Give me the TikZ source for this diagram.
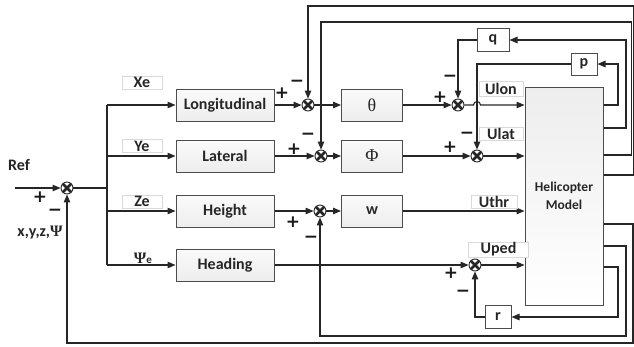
\documentclass[tikz,border=0pt]{standalone}
\usepackage{fontspec}
\setmainfont{Carlito}
\newfontfamily\serifgr{Liberation Serif}
\newfontfamily\signfont{DejaVu Sans Bold}
\usetikzlibrary{arrows.meta,calc}

\begin{document}
\begin{tikzpicture}[x=1pt,y=-1pt,
  wire/.style={draw=black!85, line width=1.1pt},
  arr/.style={wire, -{Triangle[length=8pt,width=6.5pt]}},
  block/.style={draw=black!70, line width=1pt, top color=gray!4, bottom color=gray!14,
    inner sep=0pt, font=\fontsize{16}{18}\selectfont\bfseries, text=black!85},
  lbl/.style={draw=gray!30, fill=white, line width=0.8pt, inner sep=0pt,
    font=\fontsize{16}{18}\selectfont\bfseries, text=black!85},
  txt/.style={inner sep=0pt, font=\fontsize{16}{18}\selectfont\bfseries, text=black!85},
  sign/.style={inner sep=0pt, font=\fontsize{17}{17}\signfont, text=black!90},
  sumnode/.style={circle, draw=black!85, line width=0.9pt, minimum size=12pt, inner sep=0pt, fill=white,
    path picture={\draw[line width=2.5pt, black!85]
      (path picture bounding box.north west) -- (path picture bounding box.south east)
      (path picture bounding box.north east) -- (path picture bounding box.south west);}}
]
\useasboundingbox (0,0) rectangle (634,346);

% ---- summing junctions ----
\node[sumnode] (s0)    at (67,188)  {};
\node[sumnode] (slon)  at (308,105) {};
\node[sumnode] (slat)  at (321,156) {};
\node[sumnode] (shgt)  at (320,211) {};
\node[sumnode] (sulon) at (458,105) {};
\node[sumnode] (sulat) at (477,156) {};
\node[sumnode] (sped)  at (475,265) {};

% ---- controller blocks ----
\node[block, minimum width=98, minimum height=32] (lon)  at (225,105) {Longitudinal};
\node[block, minimum width=98, minimum height=32] (lat)  at (225,156) {Lateral};
\node[block, minimum width=98, minimum height=32] (hgt)  at (225,211) {Height};
\node[block, minimum width=98, minimum height=32] (head) at (225,265) {Heading};

\node[block, minimum width=61, minimum height=32, font=\fontsize{18}{20}\serifgr] (theta) at (372,105) {θ};
\node[block, minimum width=61, minimum height=32, font=\fontsize{18}{20}\serifgr] (phi)   at (372,156) {Φ};
\node[block, minimum width=61, minimum height=32] (w) at (372,211) {w};

% ---- plant ----
\node[draw=black!70, line width=1pt, top color=gray!14, bottom color=white,
      minimum width=78, minimum height=218, inner sep=0pt, align=center,
      font=\fontsize{13.5}{18}\selectfont\bfseries, text=black!85] (heli) at (564,196)
      {Helicopter\\Model};

% ---- rate feedback blocks ----
\node[block, fill=white, top color=white, bottom color=white, minimum width=32, minimum height=23] (q) at (493,40)  {q};
\node[block, fill=white, top color=white, bottom color=white, minimum width=26, minimum height=22] (p) at (584,64)  {p};
\node[block, fill=white, top color=white, bottom color=white, minimum width=26, minimum height=23] (r) at (498,317) {r};

% ---- reference input and distribution bus ----
\coordinate (refin) at (15,188);
\coordinate (bus) at (107,188);
\draw[arr] (refin) -- (s0);
\draw[wire] (s0) -- (bus);
\draw[wire] (bus |- lon.west) -- (bus |- head.west);
\foreach \b in {lon,lat,hgt,head} \draw[arr] (bus |- \b.west) -- (\b.west);

% ---- forward paths ----
\draw[arr] (lon) -- (slon);
\draw[arr] (lat) -- (slat);
\draw[arr] (hgt) -- (shgt);
\draw[arr] (head) -- (sped);
\draw[arr] (slon) -- (theta);
\draw[arr] (slat) -- (phi);
\draw[arr] (shgt) -- (w);
\draw[arr] (theta) -- (sulon);
\draw[arr] (phi) -- (sulat);
\coordinate (jmp) at (sulat |- sulon);
\draw[arr] (sulon) -- ([xshift=-3.5pt]jmp)
  .. controls ([xshift=-3.5pt,yshift=4.5pt]jmp) and ([xshift=3.5pt,yshift=4.5pt]jmp) .. ([xshift=3.5pt]jmp)
  -- (heli.west |- sulon);
\draw[arr] (sulat) -- (heli.west |- sulat);
\draw[arr] (w) -- (heli.west |- w);
\draw[arr] (sped) -- (heli.west |- sped);

% ---- inner rate loops ----
\draw[arr] (heli.east |- 0,128) -| (626,40) -- (q.east);
\draw[arr] (q.west) -| (sulon.north);
\draw[arr] (heli.east |- 0,105) -| (618,64) -- (p.east);
\draw[arr] (p.west) -| (sulat.north);
\draw[arr] (heli.east |- 0,267) -| (618,317) -- (r.east);
\draw[arr] (r.west) -| (sped.south);

% ---- outer loops ----
\draw[arr] (heli.east |- 0,175) -| (633.5,6) -| (slon.north);
\draw[arr] (heli.east |- 0,155) -| (631.5,22) -| (slat.north);
\draw[arr] (heli.east |- 0,246) -| (626,336) -| (shgt.south);
\draw[arr] (heli.east |- 0,224) -| (633,343) -| (s0.south);

% ---- signal labels ----
\node[lbl, minimum width=40, minimum height=13] (lxe) at (142,82.5) {Xe};
\node[lbl, minimum width=40, minimum height=13] (lye) at (142,146) {Ye};
\node[lbl, minimum width=40, minimum height=13] (lze) at (142,201.5) {Ze};
\node[txt] (lpsi) at (143,258) {{\serifgr\bfseries Ψ}{\fontsize{11}{11}\selectfont e}};
\node[lbl, minimum width=44, minimum height=15] (lulon) at (501,89) {Ulon};
\node[lbl, minimum width=44, minimum height=13] (lulat) at (501,134) {Ulat};
\node[lbl, minimum width=46, minimum height=13] (luthr) at (494,201.5) {Uthr};
\node[lbl, minimum width=60, minimum height=15] (luped) at (498.5,249.5) {Uped};
\node[txt] (lref) at (19,165) {Ref};
\node[txt] (lxyz) at (40,233) {x,y,z,{\serifgr\bfseries Ψ}};

% ---- signs at the summing junctions ----
\node[sign] at (40,197) {+};  \node[sign] at (55,212) {−};
\node[sign] at (282,93) {+};  \node[sign] at (297,83) {−};
\node[sign] at (294,149) {+}; \node[sign] at (308,136) {−};
\node[sign] at (293,222) {+}; \node[sign] at (311,239) {−};
\node[sign] at (440,97) {+};  \node[sign] at (450,78) {−};
\node[sign] at (450,147) {+}; \node[sign] at (467,135) {−};
\node[sign] at (451,273) {+}; \node[sign] at (463,293) {−};
\end{tikzpicture}
\end{document}
